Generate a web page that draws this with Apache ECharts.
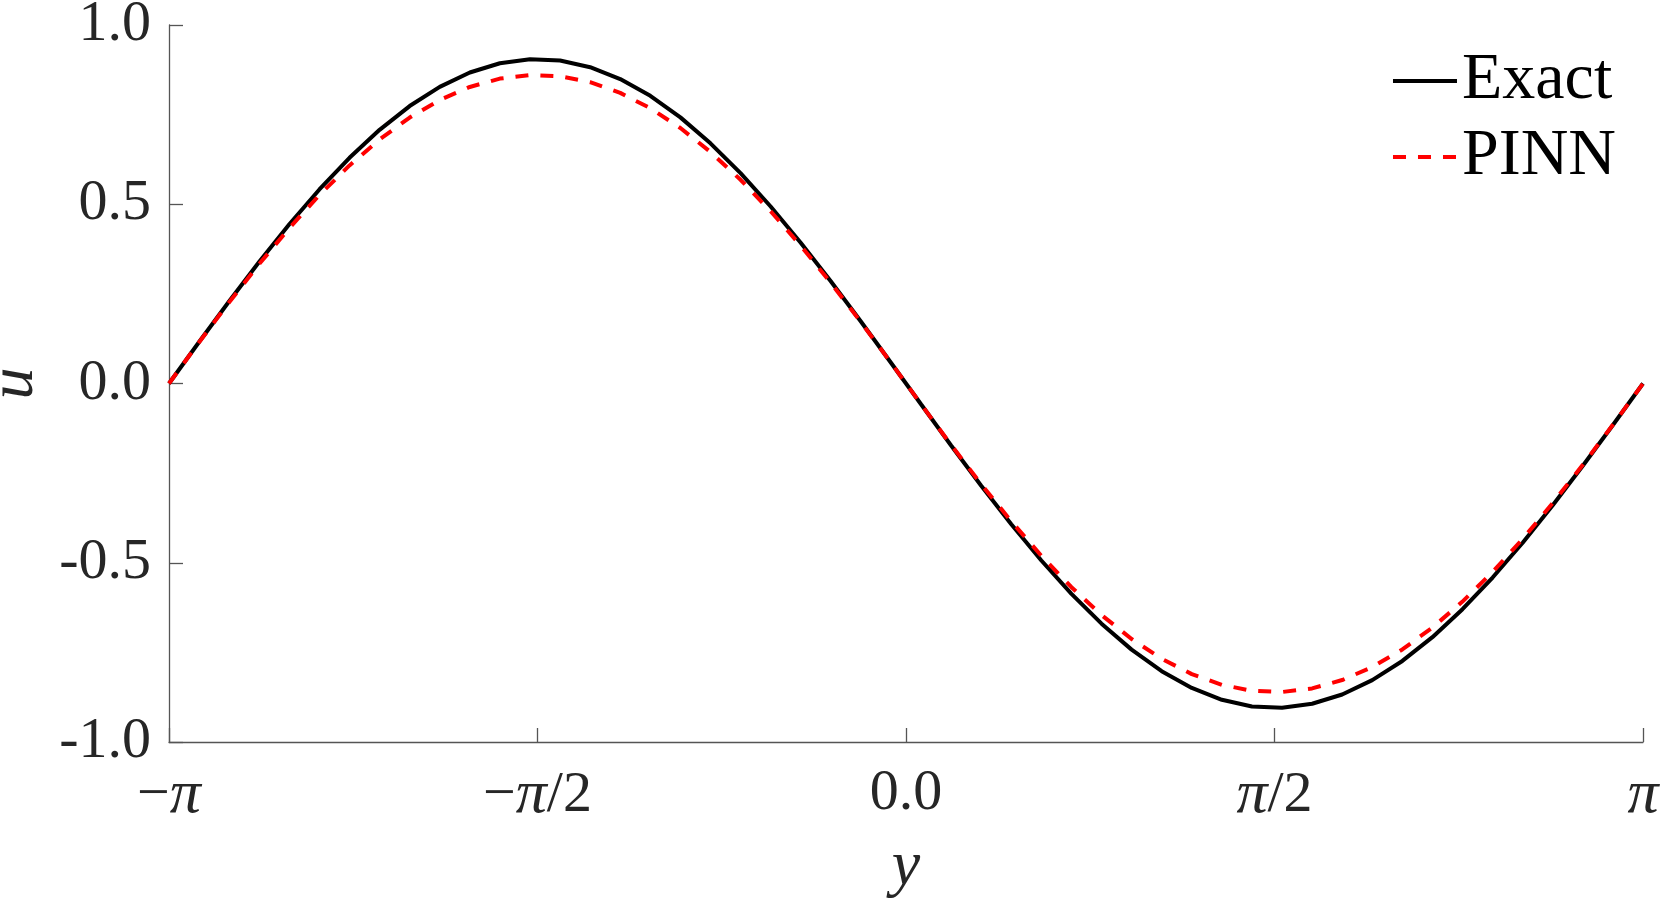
<!DOCTYPE html>
<html>
<head>
<meta charset="utf-8">
<script src="https://cdn.jsdelivr.net/npm/echarts@6/dist/echarts.min.js"></script>
<style>
html,body{margin:0;padding:0;background:#fff;}
#chart{width:1661px;height:898px;}
</style>
</head>
<body>
<div id="chart"></div>
<script>
// y coordinates (sample points on [-pi, pi])
const yPoints = [-3.1416,-3.0134,-2.8851,-2.7569,-2.6287,-2.5005,-2.3722,-2.2440,-2.1158,-1.9875,-1.8593,-1.7311,-1.6029,-1.4746,-1.3464,-1.2182,-1.0899,-0.9617,-0.8335,-0.7053,-0.5770,-0.4488,-0.3206,-0.1923,-0.0641,0.0641,0.1923,0.3206,0.4488,0.5770,0.7053,0.8335,0.9617,1.0899,1.2182,1.3464,1.4746,1.6029,1.7311,1.8593,1.9875,2.1158,2.2440,2.3722,2.5005,2.6287,2.7569,2.8851,3.0134,3.1416];
const exactValues = [0,0.1157,0.2296,0.3396,0.4441,0.5413,0.6296,0.7076,0.7739,0.8275,0.8676,0.8934,0.9045,0.9008,0.8823,0.8493,0.8024,0.7423,0.6700,0.5866,0.4937,0.3927,0.2852,0.1730,0.0580,-0.0580,-0.1730,-0.2852,-0.3927,-0.4937,-0.5866,-0.6700,-0.7423,-0.8024,-0.8493,-0.8823,-0.9008,-0.9045,-0.8934,-0.8676,-0.8275,-0.7739,-0.7076,-0.6296,-0.5413,-0.4441,-0.3396,-0.2296,-0.1157,0];
const pinnValues = [0,0.1150,0.2267,0.3334,0.4335,0.5256,0.6083,0.6807,0.7417,0.7908,0.8272,0.8505,0.8606,0.8572,0.8405,0.8106,0.7678,0.7127,0.6458,0.5682,0.4806,0.3844,0.2808,0.1714,0.0578,-0.0578,-0.1714,-0.2808,-0.3844,-0.4806,-0.5682,-0.6458,-0.7127,-0.7678,-0.8106,-0.8405,-0.8572,-0.8606,-0.8505,-0.8272,-0.7908,-0.7417,-0.6807,-0.6083,-0.5256,-0.4335,-0.3334,-0.2267,-0.1150,0];
const xTickLabels = ['{m|\u2212}{p|\u03c0}', '{m|\u2212}{p|\u03c0}{m|/2}', '{m|0.0}', '{p|\u03c0}{m|/2}', '{p|\u03c0}'];
const yTickLabels = ['-1.0', '-0.5', '0.0', '0.5', '1.0'];
const seriesNames = ['Exact', 'PINN'];

const FONT = '"Liberation Serif", "DejaVu Serif", serif';
const exactData = yPoints.map((x, i) => [x, exactValues[i]]);
const pinnData = yPoints.map((x, i) => [x, pinnValues[i]]);

const chart = echarts.init(document.getElementById('chart'), null, {renderer: 'canvas'});
chart.setOption({
  animation: false,
  backgroundColor: '#ffffff',
  grid: {left: 169, right: 18, top: 25, bottom: 156, containLabel: false, outerBoundsMode: 'none'},
  legend: {
    data: seriesNames,
    orient: 'vertical',
    right: 40,
    top: 43,
    itemWidth: 64,
    itemHeight: 20,
    itemGap: 10,
    align: 'left',
    itemStyle: {opacity: 0},
    lineStyle: {width: 4},
    textStyle: {fontFamily: FONT, fontSize: 66, lineHeight: 66, color: '#000'}
  },
  xAxis: {
    type: 'value',
    min: -Math.PI,
    max: Math.PI,
    interval: Math.PI / 2,
    name: 'y',
    nameLocation: 'middle',
    nameGap: 93,
    nameTextStyle: {fontFamily: FONT, fontSize: 64, fontStyle: 'italic', color: '#262626'},
    axisLine: {show: true, onZero: false, lineStyle: {color: '#555', width: 1.3}},
    axisTick: {show: true, inside: true, length: 14, lineStyle: {color: '#555', width: 1.3}},
    splitLine: {show: false},
    axisLabel: {
      margin: 23,
      showMinLabel: true,
      showMaxLabel: true,
      formatter: function (v) {
        const idx = Math.round(v / (Math.PI / 2)) + 2;
        return xTickLabels[idx] || '';
      },
      rich: {
        m: {fontFamily: FONT, fontSize: 58, color: '#262626'},
        p: {fontFamily: FONT, fontSize: 62, fontStyle: 'italic', color: '#262626'}
      }
    }
  },
  yAxis: {
    type: 'value',
    min: -1,
    max: 1,
    interval: 0.5,
    name: 'u',
    nameLocation: 'middle',
    nameGap: 122,
    nameRotate: 90,
    nameTextStyle: {fontFamily: FONT, fontSize: 64, fontStyle: 'italic', color: '#262626'},
    axisLine: {show: true, onZero: false, lineStyle: {color: '#555', width: 1.3}},
    axisTick: {show: true, inside: true, length: 14, lineStyle: {color: '#555', width: 1.3}},
    splitLine: {show: false},
    axisLabel: {
      margin: 18,
      fontFamily: FONT,
      fontSize: 58,
      color: '#262626',
      formatter: function (v) {
        const idx = Math.round((v + 1) / 0.5);
        return yTickLabels[idx] || '';
      }
    }
  },
  series: [
    {
      name: seriesNames[0],
      type: 'line',
      data: exactData,
      symbol: 'none',
      smooth: false,
      lineStyle: {color: '#000000', width: 4, type: 'solid'},
      itemStyle: {color: '#000000'},
      z: 2
    },
    {
      name: seriesNames[1],
      type: 'line',
      data: pinnData,
      symbol: 'none',
      smooth: false,
      lineStyle: {color: '#ff0000', width: 4, type: [13, 12]},
      itemStyle: {color: '#ff0000'},
      z: 3
    }
  ]
});
</script>
</body>
</html>
